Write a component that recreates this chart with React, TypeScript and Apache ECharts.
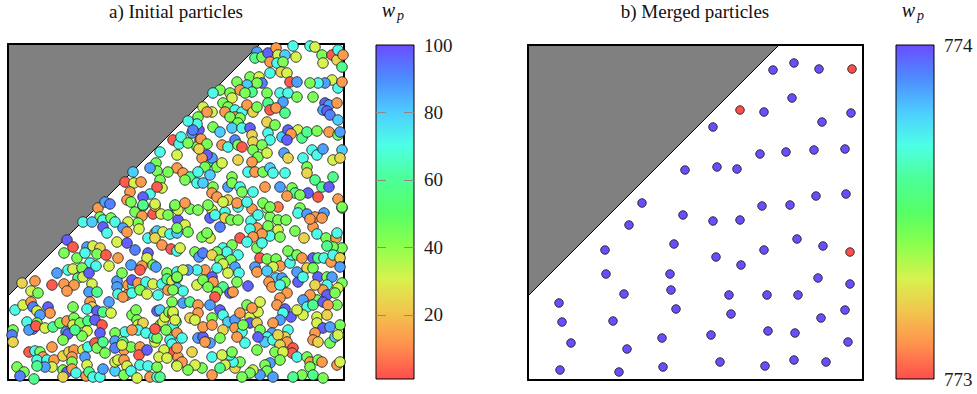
import React, { useEffect, useRef } from "react";
import * as echarts from "echarts";

const SERIF = "Liberation Serif";

// colormap (low -> high)
const COLORMAP = [
  "#ff4d4d", "#ff904d", "#f2c44d", "#d8f24d", "#8cff4d", "#55ff66",
  "#4dff99", "#4dffe6", "#4dccff", "#4d8cff", "#6a4dff",
];

const titles = ["a) Initial particles", "b) Merged particles"];
const initialRange = [1, 100];
const initialTickLabels = [20, 40, 60, 80, 100];
const initialTickMarks = [20, 40, 60, 80];
const mergedRange = [773, 774];
const cellLeft = 336;
const cellRight = 335;
const obstacleLeft = [[0, 84], [0, 336], [252, 336]];
const obstacleRight = [[0, 84], [0, 335], [251, 335]];

// [x, y, w_p]
const initialNearObstacle = [
  [152,228,71],[148,217,44],[149,209,44],[142,212,87],[125,208,80],[160,208,44],[152,200,44],
  [117,198,3],[126,197,31],[133,198,13],[122,188,13],[142,186,71],[135,183,97],[119,180,13],
  [123,178,44],[154,192,31],[149,193,3],[97,178,87],[102,176,92],[135,175,58],[147,176,31],
  [165,240,3],[171,236,71],[173,243,71],[180,237,44],[184,247,87],[191,250,97],[193,241,13],
  [199,236,44],[191,231,24],[189,256,71],[185,250,92],[180,259,71],
];

const initialLowerLeft = [
  [90,172,13],[127,168,44],[135,174,44],[145,166,3],[153,166,31],[160,165,44],[167,173,87],
  [147,174,24],[170,160,97],[92,163,44],[95,160,71],[103,162,44],[107,158,71],[134,164,13],
  [130,157,44],[120,158,31],[115,152,87],[75,158,71],[84,158,80],[95,153,97],[99,147,71],
  [119,148,13],[131,151,31],[140,142,71],[147,147,13],[149,149,80],[155,148,31],[147,142,24],
  [162,146,71],[169,147,80],[154,135,13],[163,131,3],[169,129,71],[59,140,97],[65,133,3],
  [79,133,87],[85,134,31],[92,132,24],[109,138,31],[119,137,97],[127,130,92],[140,127,97],
  [139,122,31],[56,127,44],[69,122,44],[77,127,71],[89,126,44],[98,125,3],[110,122,13],
  [82,117,71],[88,114,71],[101,114,31],[123,115,87],[134,114,13],[132,110,3],[145,115,44],
  [148,113,87],[159,107,44],[169,108,71],[49,107,87],[60,110,71],[65,111,31],[74,112,44],
  [70,102,58],[75,103,31],[81,107,97],[84,96,31],[56,96,13],[66,95,13],[59,89,13],[44,95,3],
  [27,99,13],[14,97,24],[23,89,31],[30,87,44],[109,99,87],[114,107,44],[120,95,13],[125,94,71],
  [124,100,97],[130,97,13],[138,98,71],[145,96,31],[154,96,71],[159,101,58],[164,99,31],
  [169,102,87],[109,93,87],[110,86,71],[119,85,13],[115,83,13],[124,87,71],[132,90,44],
  [139,86,31],[150,85,71],[160,90,13],[169,92,80],[81,88,87],[89,88,58],[101,78,87],[82,78,13],
  [84,73,24],[79,71,71],[89,69,97],[95,68,58],[103,67,31],[65,73,44],[7,70,71],[15,75,31],
  [23,78,13],[25,73,92],[29,69,31],[40,73,97],[42,67,13],[32,65,87],[19,58,71],[29,57,44],
  [25,51,92],[21,50,87],[28,54,3],[37,52,31],[45,53,58],[52,57,44],[59,59,13],[66,62,44],
  [65,55,31],[72,57,44],[80,59,58],[87,60,97],[94,55,3],[79,49,31],[74,44,44],[58,48,87],
  [60,46,97],[55,40,44],[67,50,58],[5,50,44],[4,45,92],[5,38,24],[124,65,44],[128,70,44],
  [129,60,44],[130,55,31],[135,57,24],[130,50,71],[138,47,71],[117,48,71],[124,50,13],
  [107,47,44],[107,39,87],[115,38,58],[116,30,13],[123,33,44],[132,33,13],[131,25,3],
  [139,30,97],[147,38,31],[146,43,71],[149,42,44],[152,55,44],[155,58,31],[149,69,97],
  [152,70,80],[157,63,31],[161,68,44],[165,65,3],[168,58,58],[165,52,71],[169,47,13],
  [162,40,71],[164,36,71],[165,28,3],[156,30,31],[170,23,13],[147,51,3],[158,50,44],
  [21,28,3],[27,29,71],[32,28,44],[35,23,13],[29,20,71],[39,20,71],[46,20,13],[44,13,31],
  [37,13,87],[29,14,58],[9,13,44],[16,8,44],[12,4,92],[26,1,58],[44,33,13],[55,24,24],
  [61,28,24],[66,30,13],[75,30,31],[80,33,71],[87,37,3],[89,32,44],[97,27,44],[64,23,13],
  [64,18,44],[77,23,87],[79,15,31],[55,10,44],[59,8,97],[64,11,13],[55,3,24],[68,7,71],
  [78,4,13],[81,8,58],[85,3,71],[92,3,71],[95,11,87],[107,9,80],[107,18,31],[110,20,31],
  [116,20,13],[119,14,31],[116,5,44],[123,9,71],[129,2,31],[132,15,71],[140,14,71],
  [142,3,13],[149,3,71],[152,3,58],[149,13,44],[151,23,31],[159,22,31],[169,15,71],
  [92,47,97],[95,38,58],[107,32,92],[114,35,31],
];

const initialLowerRight = [
  [170,170,31],[182,171,44],[190,170,44],[204,170,31],[217,168,71],[230,173,71],[244,171,13],
  [259,172,44],[270,173,8],[292,172,44],[290,167,71],[299,166,87],[307,163,13],[316,167,87],
  [334,172,71],[177,155,31],[180,148,44],[202,162,97],[207,165,71],[212,153,92],[217,162,24],
  [223,160,44],[230,160,44],[243,159,71],[250,165,71],[262,163,44],[260,154,44],[249,152,13],
  [242,151,71],[270,160,44],[278,160,44],[270,150,31],[262,144,71],[254,146,13],[245,143,13],
  [272,143,44],[287,149,44],[296,142,24],[305,153,13],[302,161,13],[314,162,13],[309,146,71],
  [318,142,44],[328,142,13],[329,147,71],[334,132,44],[325,133,44],[319,134,58],[169,152,44],
  [172,132,31],[187,128,44],[191,123,87],[195,127,92],[200,145,13],[202,142,31],[194,143,44],
  [199,147,44],[232,142,3],[239,138,71],[249,132,44],[254,137,71],[215,132,71],[224,135,44],
  [219,128,71],[209,128,44],[204,125,24],[230,125,71],[223,120,44],[212,120,44],[215,116,31],
  [227,113,87],[231,107,71],[220,107,31],[209,112,71],[197,110,13],[189,110,71],[180,110,87],
  [175,110,31],[204,103,97],[205,98,13],[215,93,58],[209,88,44],[207,83,3],[222,87,97],
  [225,88,13],[229,98,44],[240,94,97],[175,89,71],[169,103,44],[165,90,44],[189,95,31],
  [195,100,44],[200,93,44],[252,122,3],[259,121,44],[268,121,44],[272,114,13],[265,113,31],
  [247,113,87],[249,108,13],[259,109,80],[268,102,80],[274,102,87],[277,98,44],[261,98,13],
  [264,93,13],[272,95,71],[282,117,71],[284,125,71],[280,129,44],[289,125,44],[294,122,13],
  [299,112,24],[290,98,97],[289,108,87],[295,103,71],[305,122,97],[310,122,58],[316,122,71],
  [323,118,13],[325,125,71],[332,122,24],[305,112,44],[310,103,97],[319,103,44],[324,103,87],
  [332,113,87],[334,97,44],[330,92,31],[319,95,71],[315,90,13],[307,95,24],[319,85,97],
  [327,87,44],[329,75,44],[332,55,44],[309,80,44],[302,85,13],[295,80,87],[299,73,71],
  [305,75,58],[315,78,97],[320,75,13],[295,65,31],[309,63,31],[319,65,24],[309,57,31],
  [315,52,97],[322,53,87],[307,47,13],[305,40,13],[310,38,24],[322,37,44],[327,43,80],
  [330,45,31],[279,87,13],[272,82,13],[269,75,13],[277,71,97],[283,63,97],[275,67,71],
  [272,60,87],[289,70,31],[280,50,71],[277,43,24],[279,38,13],[285,32,3],[284,27,3],
  [289,23,71],[265,57,13],[264,47,87],[259,43,71],[257,38,80],[265,40,71],[270,45,24],
  [272,35,24],[267,28,44],[275,28,31],[272,20,44],[262,17,87],[257,15,44],[259,9,44],
  [265,3,87],[252,5,87],[245,10,31],[242,7,44],[234,3,44],[227,12,24],[232,18,44],[225,18,71],
  [222,25,71],[217,15,31],[212,12,58],[204,5,13],[194,12,44],[187,15,31],[180,10,44],
  [174,18,13],[169,14,31],[169,32,13],[174,42,71],[184,28,24],[190,42,87],[195,43,97],
  [202,37,87],[197,38,13],[204,23,71],[214,25,31],[224,28,44],[237,37,71],[249,30,44],
  [164,78,44],[165,68,31],[167,60,31],[175,77,87],[182,78,58],[190,75,13],[190,67,13],
  [182,62,24],[187,60,31],[202,75,87],[204,62,44],[195,53,13],[204,55,13],[212,70,97],
  [215,65,71],[220,58,80],[227,60,87],[232,67,13],[239,75,44],[242,63,31],[242,57,97],
  [249,57,24],[250,68,31],[252,78,31],[244,72,13],[227,52,13],[234,48,71],[235,55,44],
  [229,43,13],[215,50,24],[212,42,44],[252,50,44],[250,43,97],[299,23,44],[302,18,13],
  [310,20,44],[314,18,13],[302,13,44],[305,5,58],[294,5,44],[285,3,58],[315,2,44],
  [329,15,13],[332,18,31],
];

const initialUpperRight = [
  [249,328,87],[247,322,58],[254,323,44],[260,327,97],[268,332,13],[270,325,31],[277,325,80],
  [262,318,13],[269,317,71],[275,318,44],[273,308,24],[279,307,31],[285,334,71],[288,323,31],
  [302,334,71],[307,333,31],[314,325,44],[315,317,31],[324,325,3],[329,320,24],[330,330,71],
  [335,325,13],[334,313,58],[324,300,31],[317,297,87],[310,297,71],[302,297,44],[330,292,71],
  [334,298,13],[242,303,44],[251,303,31],[254,297,92],[249,297,44],[239,295,80],[262,307,71],
  [282,298,3],[289,298,87],[229,298,44],[232,290,13],[244,288,58],[237,287,44],[259,287,44],
  [272,287,71],[280,287,71],[275,278,87],[289,283,44],[305,283,44],[317,277,97],[321,275,87],
  [329,277,13],[315,270,87],[319,269,97],[322,265,92],[330,260,80],[212,290,44],[205,287,71],
  [222,287,44],[224,282,31],[215,277,44],[220,273,44],[227,270,71],[234,268,71],[239,275,13],
  [245,268,24],[249,273,44],[260,277,58],[262,270,3],[268,272,13],[277,267,58],[259,258,24],
  [267,255,44],[195,273,31],[204,268,31],[199,268,13],[217,268,13],[227,263,13],[232,262,44],
  [222,263,44],[230,257,44],[190,263,44],[205,253,44],[212,248,80],[224,252,80],[234,252,71],
  [242,252,97],[244,245,24],[245,238,24],[260,247,71],[262,240,71],[274,243,80],[280,250,97],
  [290,250,31],[283,246,13],[294,242,58],[299,248,58],[309,249,44],[304,230,71],[309,225,71],
  [315,231,87],[321,248,13],[330,245,44],[332,248,87],[334,230,80],[192,240,13],[189,233,44],
  [169,225,31],[214,235,13],[220,233,71],[227,240,92],[230,235,44],[234,233,3],[245,230,44],
  [250,223,44],[254,235,44],[259,227,31],[279,240,97],[276,227,87],[280,222,24],[295,222,71],
  [299,213,44],[325,220,31],[332,222,24],[200,218,58],[204,222,87],[199,225,97],[194,222,13],
  [197,213,44],[209,213,44],[214,217,31],[230,220,24],[244,218,13],[240,208,71],[247,208,13],
  [255,208,44],[262,212,80],[265,207,71],[272,193,87],[277,207,71],[284,192,44],[287,187,58],
  [279,184,13],[299,207,24],[307,200,58],[314,193,58],[321,193,97],[325,203,58],[310,183,3],
  [300,187,97],[292,185,44],[330,181,13],[334,173,44],[169,212,13],[175,207,13],[182,203,58],
  [190,208,71],[177,200,44],[189,197,71],[195,197,80],[202,205,80],[205,193,44],[220,193,87],
  [224,203,44],[224,197,44],[232,193,71],[234,188,44],[245,188,71],[257,193,13],[204,187,13],
  [209,183,13],[220,180,24],[229,177,13],[239,178,71],[255,177,44],[262,173,44],[167,175,44],
  [177,177,13],[215,178,31],[200,175,44],
];

const mergedParticles = [
  [245,310,774],[266,317,774],[291,311,774],[324,311,773],[264,282,774],[212,270,773],
  [236,268,774],[294,258,774],[323,267,774],[185,253,774],[232,226,774],[258,228,774],
  [286,230,774],[317,231,774],[157,210,774],[189,213,774],[209,211,774],[114,177,774],
  [234,174,774],[262,175,774],[288,184,774],[318,186,774],[155,165,774],[185,159,774],
  [212,160,774],[101,155,774],[77,130,774],[146,136,774],[188,123,774],[213,115,774],
  [236,130,774],[269,141,774],[295,134,774],[322,128,773],[78,106,774],[142,106,774],
  [290,102,774],[322,96,774],[31,77,774],[96,86,774],[143,90,774],[201,85,774],[239,85,774],
  [270,85,774],[34,58,774],[85,59,774],[148,71,774],[203,66,774],[293,62,774],[317,70,774],
  [43,37,774],[99,31,774],[134,42,774],[183,45,774],[240,49,774],[267,47,774],[320,38,774],
  [32,10,774],[91,8,774],[135,13,774],[192,18,774],[237,14,774],[266,20,774],[298,18,774],
];

const initialParticles = [
  ...initialLowerLeft,
  ...initialLowerRight,
  ...initialUpperRight,
  ...initialNearObstacle,
];

function frameAxes(gridIndex: number, max: number, kind: "x" | "y") {
  const positions = kind === "x" ? ["bottom", "top"] : ["left", "right"];
  return positions.map((position) => ({
    type: "value",
    gridIndex,
    position,
    min: 0,
    max,
    z: 3,
    axisLine: { show: true, onZero: false, lineStyle: { color: "#000", width: 2 } },
    axisTick: { show: false },
    axisLabel: { show: false },
    splitLine: { show: false },
  }));
}

function obstacleSeries(xAxisIndex: number, yAxisIndex: number, verts: number[][]) {
  return {
    type: "custom",
    xAxisIndex,
    yAxisIndex,
    z: 1,
    clip: false,
    silent: true,
    data: [[0, 0]],
    renderItem: (_p: any, api: any) => ({
      type: "polygon",
      shape: { points: verts.map((v) => api.coord(v)) },
      style: { fill: "#808080", stroke: "#000", lineWidth: 1 },
    }),
  };
}

function colorbarSeries(xAxisIndex: number, yAxisIndex: number, range: number[]) {
  const stops = COLORMAP.map((c, i) => ({ offset: i / (COLORMAP.length - 1), color: c }));
  return {
    type: "custom",
    xAxisIndex,
    yAxisIndex,
    z: 1,
    clip: false,
    silent: true,
    data: [[0, range[0]]],
    renderItem: (_p: any, api: any) => {
      const a = api.coord([0, range[1]]);
      const b = api.coord([1, range[0]]);
      return {
        type: "rect",
        shape: { x: a[0], y: a[1], width: b[0] - a[0], height: b[1] - a[1] },
        style: {
          fill: new echarts.graphic.LinearGradient(0, 1, 0, 0, stops),
          stroke: "#000",
          lineWidth: 1,
        },
      };
    },
  };
}

const labelStyle = { fontFamily: SERIF, fontSize: 19, color: "#1a1a1a" };

function textEl(x: number, y: number, text: string, fontSize: number, italic = false) {
  return {
    type: "text",
    x,
    y,
    style: {
      text,
      fontFamily: SERIF,
      fontSize,
      fontStyle: italic ? "italic" : "normal",
      fill: "#111",
      align: "center",
      verticalAlign: "middle",
    },
  };
}

export default function App() {
  const ref = useRef<HTMLDivElement>(null);
  useEffect(() => {
    const chart = echarts.init(ref.current!, null, { renderer: "svg" });
    const hiddenX = (gridIndex: number) => ({
      type: "value", gridIndex, min: 0, max: 1, show: false,
    });
    const option: any = {
      animation: false,
      backgroundColor: "#fff",
      grid: [
        { left: 8, top: 44, width: cellLeft, height: cellLeft },
        { left: 376, top: 45, width: 38, height: 334 },
        { left: 528, top: 45, width: cellRight, height: cellRight },
        { left: 896, top: 45, width: 38, height: 334 },
      ],
      xAxis: [
        ...frameAxes(0, cellLeft, "x"),
        hiddenX(1),
        ...frameAxes(2, cellRight, "x"),
        hiddenX(3),
      ],
      yAxis: [
        ...frameAxes(0, cellLeft, "y"),
        {
          type: "value", gridIndex: 1, position: "left", min: initialRange[0], max: initialRange[1], z: 3,
          axisLine: { show: false },
          axisTick: { show: true, inside: true, length: 10, customValues: initialTickMarks, lineStyle: { color: "#8a8a8a", width: 1 } },
          axisLabel: { show: false },
          splitLine: { show: false },
        },
        {
          type: "value", gridIndex: 1, position: "right", min: initialRange[0], max: initialRange[1], z: 3,
          axisLine: { show: false },
          axisTick: { show: true, inside: true, length: 10, customValues: initialTickMarks, lineStyle: { color: "#8a8a8a", width: 1 } },
          axisLabel: { show: true, margin: 10, customValues: initialTickLabels, ...labelStyle },
          splitLine: { show: false },
        },
        ...frameAxes(2, cellRight, "y"),
        {
          type: "value", gridIndex: 3, position: "right", min: mergedRange[0], max: mergedRange[1], interval: 1, z: 3,
          axisLine: { show: false },
          axisTick: { show: false },
          axisLabel: { show: true, margin: 10, ...labelStyle },
          splitLine: { show: false },
        },
      ],
      visualMap: [
        { type: "continuous", show: false, seriesIndex: 1, dimension: 2, min: initialRange[0], max: initialRange[1], inRange: { color: COLORMAP } },
        { type: "continuous", show: false, seriesIndex: 4, dimension: 2, min: mergedRange[0], max: mergedRange[1], inRange: { color: COLORMAP } },
      ],
      series: [
        obstacleSeries(0, 0, obstacleLeft),
        {
          type: "scatter", xAxisIndex: 0, yAxisIndex: 0, z: 5, clip: false,
          symbol: "circle", symbolSize: 10.5,
          itemStyle: { opacity: 1, borderColor: "#222", borderWidth: 0.9 },
          data: initialParticles,
        },
        colorbarSeries(2, 2, initialRange),
        obstacleSeries(3, 4, obstacleRight),
        {
          type: "scatter", xAxisIndex: 3, yAxisIndex: 4, z: 5, clip: false,
          symbol: "circle", symbolSize: 8.5,
          itemStyle: { opacity: 1, borderColor: "#222", borderWidth: 0.9 },
          data: mergedParticles,
        },
        colorbarSeries(5, 6, mergedRange),
      ],
      graphic: [
        textEl(176, 11, titles[0], 19),
        textEl(695, 11, titles[1], 19),
        textEl(388.5, 10, "w", 20, true),
        textEl(400.5, 15, "p", 14, true),
        textEl(908.5, 10, "w", 20, true),
        textEl(920.5, 15, "p", 14, true),
      ],
    };
    chart.setOption(option);
    return () => chart.dispose();
  }, []);
  return (
    <div
      ref={ref}
      style={{ position: "absolute", left: 0, top: 0, width: 977, height: 394 }}
    />
  );
}
